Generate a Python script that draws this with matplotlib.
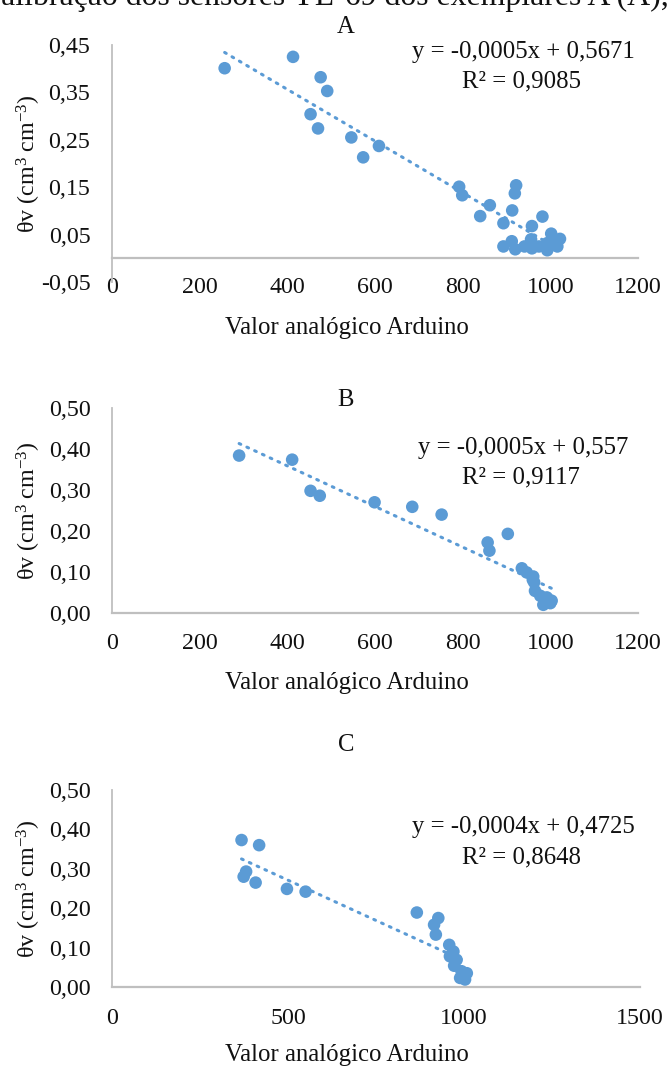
import numpy as np
import matplotlib
matplotlib.use("Agg")
import matplotlib.pyplot as plt

plt.rcParams['font.family'] = ['Liberation Serif', 'DejaVu Serif']
plt.rcParams['mathtext.fontset'] = 'custom'
plt.rcParams['mathtext.rm'] = 'Liberation Serif'
plt.rcParams['mathtext.it'] = 'Liberation Serif:italic'

# ---------------- data ----------------
A_x = [257, 413, 476, 491, 453, 470, 546, 609, 573, 792, 799, 862, 840, 922, 919, 913,
       893, 982, 958, 893, 912, 920, 941, 956, 958, 974, 993, 1002, 1004, 1022, 1016, 993]
A_y = [0.401, 0.425, 0.382, 0.353, 0.304, 0.274, 0.255, 0.237, 0.213, 0.151, 0.133, 0.112,
       0.089, 0.154, 0.137, 0.101, 0.074, 0.088, 0.068, 0.025, 0.036, 0.019, 0.025, 0.040,
       0.021, 0.025, 0.017, 0.052, 0.036, 0.041, 0.025, 0.032]

B_x = [290, 411, 453, 474, 599, 685, 752, 903, 857, 861, 935, 946, 961, 960, 963, 965,
       977, 992, 984, 1003, 1000]
B_y = [0.384, 0.374, 0.298, 0.286, 0.270, 0.259, 0.240, 0.193, 0.172, 0.152, 0.109, 0.099,
       0.089, 0.081, 0.075, 0.054, 0.042, 0.038, 0.020, 0.030, 0.024]

C_x = [368, 418, 381, 374, 408, 497, 550, 866, 927, 915, 920, 958, 970, 960, 979, 972,
       993, 1008, 989, 1003, 997]
C_y = [0.373, 0.360, 0.293, 0.280, 0.265, 0.249, 0.242, 0.189, 0.175, 0.158, 0.133, 0.107,
       0.090, 0.078, 0.069, 0.054, 0.040, 0.035, 0.023, 0.019, 0.028]

A_yticks = [-0.05, 0.05, 0.15, 0.25, 0.35, 0.45]
A_yticklabels = ['-0,05', '0,05', '0,15', '0,25', '0,35', '0,45']
BC_yticks = [0.0, 0.1, 0.2, 0.3, 0.4, 0.5]
BC_yticklabels = ['0,00', '0,10', '0,20', '0,30', '0,40', '0,50']
AB_xticks = [0, 200, 400, 600, 800, 1000, 1200]
C_xticks = [0, 500, 1000, 1500]

titles = ['A', 'B', 'C']
equations = ['y = -0,0005x + 0,5671', 'y = -0,0005x + 0,557', 'y = -0,0004x + 0,4725']
r2_texts = ['R² = 0,9085', 'R² = 0,9117', 'R² = 0,8648']
xlabel = 'Valor analógico Arduino'
ylabel = r'θv (cm$^{3}$ cm$^{-3}$)'
caption = 'Calibração dos sensores YL-69 dos exemplares A (A),'

# ---------------- layout ----------------
W, H = 671, 1068
fig = plt.figure(figsize=(W / 100, H / 100), dpi=100)

BLUE = '#5B9BD5'
GRAY = '#BFBFBF'
FS = 17.3
FT = 17.8
TXT = '#111111'

def fx(px):
    return px / W

def fy(py):
    return 1 - py / H

panels = [
    dict(x=A_x, y=A_y, l=112, r=638, t=45, b=282, ylim=(-0.05, 0.45), yt=A_yticks,
         ytl=A_yticklabels, xlim=(0, 1200), xt=AB_xticks, title_y=27,
         eq_y=52, r2_y=81, xlab_y=328, xtick_y=289),
    dict(x=B_x, y=B_y, l=112, r=638, t=408, b=613, ylim=(0, 0.5), yt=BC_yticks,
         ytl=BC_yticklabels, xlim=(0, 1200), xt=AB_xticks, title_y=400,
         eq_y=448, r2_y=477, xlab_y=683, xtick_y=645),
    dict(x=C_x, y=C_y, l=112, r=640, t=790, b=987, ylim=(0, 0.5), yt=BC_yticks,
         ytl=BC_yticklabels, xlim=(0, 1500), xt=C_xticks, title_y=745,
         eq_y=827, r2_y=857, xlab_y=1055, xtick_y=1020),
]

for i, p in enumerate(panels):
    ax = fig.add_axes([fx(p['l']), fy(p['b']), fx(p['r'] - p['l']), (p['b'] - p['t']) / H])
    ax.set_xlim(*p['xlim'])
    ax.set_ylim(*p['ylim'])
    for s in ['top', 'right', 'bottom']:
        ax.spines[s].set_visible(False)
    ax.spines['left'].set_color(GRAY)
    ax.spines['left'].set_linewidth(1.3)
    ax.axhline(0, color=GRAY, lw=1.6, zorder=1, clip_on=False)

    x = np.array(p['x'], dtype=float)
    y = np.array(p['y'], dtype=float)
    coef = np.polyfit(x, y, 1)
    xx = np.array([x.min(), x.max()])
    ax.plot(xx, np.polyval(coef, xx), color=BLUE, lw=2.2, linestyle=(0, (0.6, 2.2)),
            dash_capstyle='round', zorder=2)
    ax.scatter(x, y, s=82, color=BLUE, edgecolors='none', zorder=3)

    ax.set_yticks(p['yt'])
    ax.set_yticklabels(p['ytl'])
    ax.set_xticks(p['xt'])
    ax.set_xticklabels([str(v) for v in p['xt']])
    ax.tick_params(axis='y', length=0, pad=15.5, labelsize=FS, labelcolor=TXT)
    pad_px = (p['xtick_y'] - 12) - p['b']
    ax.tick_params(axis='x', length=0, pad=pad_px * 0.72, labelsize=FS, labelcolor=TXT)

    fig.text(fx(346), fy(p['title_y']), titles[i], ha='center', va='center', fontsize=FT,
             color=TXT)
    fig.text(fx(523), fy(p['eq_y']), equations[i], ha='center', va='center', fontsize=FT,
             color=TXT)
    fig.text(fx(521), fy(p['r2_y']), r2_texts[i], ha='center', va='center', fontsize=FT,
             color=TXT)
    fig.text(fx(347), fy(p['xlab_y']), xlabel, ha='center', va='center', fontsize=FT,
             color=TXT)
    fig.text(fx(29), fy((p['t'] + p['b']) / 2), ylabel, ha='center', va='center',
             rotation=90, fontsize=FS, color=TXT)

fig.text(fx(669), fy(5), caption, ha='right', va='baseline', fontsize=22.9, color=TXT)

fig.savefig('out.png', dpi=100)
